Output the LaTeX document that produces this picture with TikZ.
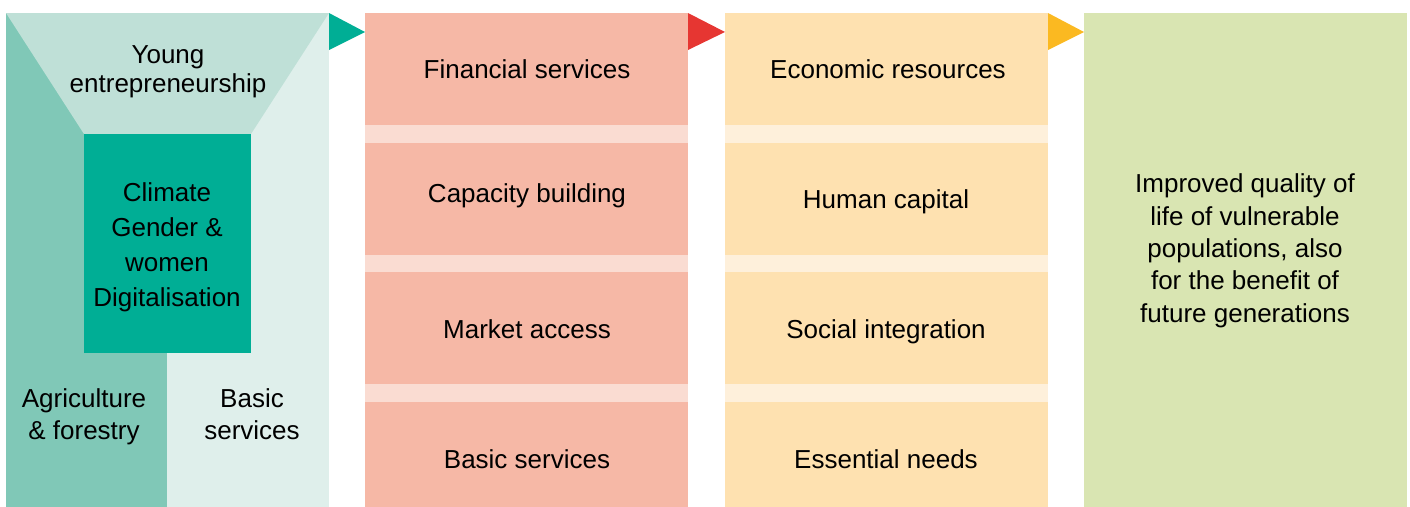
\documentclass[tikz,border=0pt]{standalone}
\usepackage{fontspec}
\setmainfont{Liberation Sans}

\definecolor{tealdark}{HTML}{00AE95}
\definecolor{tealmid}{HTML}{80C8B7}
\definecolor{teallight}{HTML}{BFE0D7}
\definecolor{tealpale}{HTML}{DFEFEB}
\definecolor{salmon}{HTML}{F6B8A6}
\definecolor{salmonband}{HTML}{FADCD2}
\definecolor{redtip}{HTML}{E63632}
\definecolor{peach}{HTML}{FEE1B0}
\definecolor{peachband}{HTML}{FEF0DB}
\definecolor{ambertip}{HTML}{FBB921}
\definecolor{leafgreen}{HTML}{D9E5B2}

\tikzset{
  lbl/.style={align=center, inner sep=0pt, font=\fontsize{14.8}{17}\selectfont},
  lowlbl/.style={lbl, yshift=-0.055cm}
}

\begin{document}
\begin{tikzpicture}[x=0.02cm, y=-0.02cm]
\useasboundingbox (0,0) rectangle (1410,507);

%%%%%%%%%%%%%%%%%%%%%%%%%%%%%%%%%%%%%%%%%%% left panel
\fill[tealpale] (167,13) rectangle (329,507);
\fill[tealmid] (6,13) rectangle (167,507);
\fill[teallight] (6,13) -- (329,13) -- (251,134) -- (84,134) -- cycle;
\fill[tealdark] (84,134) rectangle (251,353);

\node[lowlbl](young) at (168,69) {Young\\entrepreneurship};
\node[lowlbl, font=\fontsize{14.8}{20.1}\selectfont](themes) at (167,244.5) {Climate\\Gender \&\\women\\Digitalisation};
\node[lowlbl, font=\fontsize{14.8}{18}\selectfont](agri) at (84,414) {Agriculture\\\& forestry};
\node[lbl, font=\fontsize{14.8}{18}\selectfont](basic) at (252,414) {Basic\\services};

%%%%%%%%%%%%%%%%%%%%%%%%%%%%%%%%%%%%%%%%%%% services column
\fill[salmonband] (365,13) rectangle (688,507);
\fill[salmon] (365,13) rectangle (688,125);
\fill[salmon] (365,143) rectangle (688,255);
\fill[salmon] (365,272) rectangle (688,384);
\fill[salmon] (365,402) rectangle (688,507);

\node[lbl](financial) at (527,69) {Financial services};
\node[lowlbl](capacity) at (527,193) {Capacity building};
\node[lbl](market) at (527,329) {Market access};
\node[lbl](basicsrv) at (527,459) {Basic services};

%%%%%%%%%%%%%%%%%%%%%%%%%%%%%%%%%%%%%%%%%%% resources column
\fill[peachband] (725,13) rectangle (1048,507);
\fill[peach] (725,13) rectangle (1048,125);
\fill[peach] (725,143) rectangle (1048,255);
\fill[peach] (725,272) rectangle (1048,384);
\fill[peach] (725,402) rectangle (1048,507);

\node[lbl](economic) at (888,69) {Economic resources};
\node[lowlbl](human) at (886,199) {Human capital};
\node[lowlbl](social) at (886,329) {Social integration};
\node[lbl](needs) at (886,459) {Essential needs};

%%%%%%%%%%%%%%%%%%%%%%%%%%%%%%%%%%%%%%%%%%% impact
\fill[leafgreen] (1084,13) rectangle (1407,507);
\node[lowlbl, font=\fontsize{14.8}{18.4}\selectfont](impact) at (1245,248) {Improved quality of\\life of vulnerable\\populations, also\\for the benefit of\\future generations};

%%%%% arrow tips
\fill[tealdark] (329,13) -- (365,32) -- (329,50) -- cycle;
\fill[redtip] (688,13) -- (725,32) -- (688,50) -- cycle;
\fill[ambertip] (1048,13) -- (1084,32) -- (1048,50) -- cycle;
\end{tikzpicture}
\end{document}
